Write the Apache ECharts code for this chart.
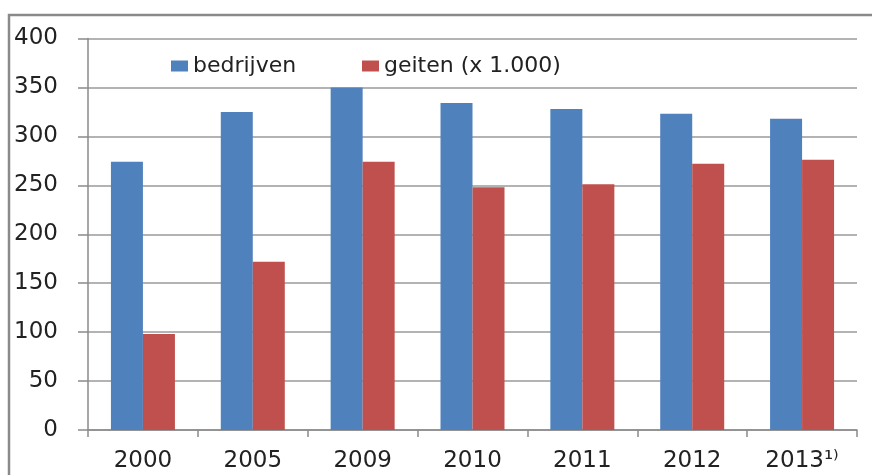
<!DOCTYPE html>
<html>
<head>
<meta charset="utf-8">
<script src="https://cdn.jsdelivr.net/npm/echarts@6/dist/echarts.min.js"></script>
<style>
  html, body { margin: 0; padding: 0; background: #fff; }
  #chart { width: 872px; height: 475px; }
</style>
</head>
<body>
<div id="chart"></div>
<script>
const categories = ['2000', '2005', '2009', '2010', '2011', '2012', '2013¹⁾'];
const bedrijven = [274, 325, 350, 334, 328, 323, 318];
const geiten = [98, 172, 274, 248, 251, 272, 276];
const yTicks = { min: 0, max: 400, interval: 50 };

const fontFamily = 'DejaVu Sans, Verdana, sans-serif';
const chart = echarts.init(document.getElementById('chart'));

const legendBase = {
  top: 50,
  itemWidth: 17,
  itemHeight: 11,
  itemGap: 8,
  icon: 'rect',
  textStyle: { fontFamily, fontSize: 22, color: '#222' },
};

chart.setOption({
  animation: false,
  backgroundColor: '#fff',
  graphic: [
    {
      type: 'rect',
      shape: { x: 9, y: 15, width: 900, height: 500 },
      style: { fill: 'none', stroke: '#8a8a8a', lineWidth: 2.5 },
    },
  ],
  legend: [
    { ...legendBase, left: 166, data: ['bedrijven'] },
    { ...legendBase, left: 357, data: ['geiten (x 1.000)'] },
  ],
  grid: {
    left: 88,
    right: 15,
    top: 38.5,
    bottom: 45,
  },
  xAxis: {
    type: 'category',
    data: categories,
    axisLine: { lineStyle: { color: '#8a8a8a', width: 1.5 } },
    axisTick: { show: true, length: 7, lineStyle: { color: '#8a8a8a', width: 1.5 } },
    axisLabel: { fontFamily, fontSize: 23, color: '#222', margin: 20 },
  },
  yAxis: {
    type: 'value',
    min: yTicks.min,
    max: yTicks.max,
    interval: yTicks.interval,
    axisLine: { show: true, lineStyle: { color: '#8a8a8a', width: 1.5 } },
    axisTick: { show: true, length: 10, lineStyle: { color: '#8a8a8a', width: 1.5 } },
    splitLine: { lineStyle: { color: '#9a9a9a', width: 1.5 } },
    axisLabel: { fontFamily, fontSize: 23, color: '#222', margin: 30 },
  },
  series: [
    {
      name: 'bedrijven',
      type: 'bar',
      data: bedrijven,
      barWidth: 32,
      barGap: '0%',
      itemStyle: { color: '#4F81BD' },
    },
    {
      name: 'geiten (x 1.000)',
      type: 'bar',
      data: geiten,
      barWidth: 32,
      itemStyle: { color: '#C0504D' },
    },
  ],
});
</script>
</body>
</html>
